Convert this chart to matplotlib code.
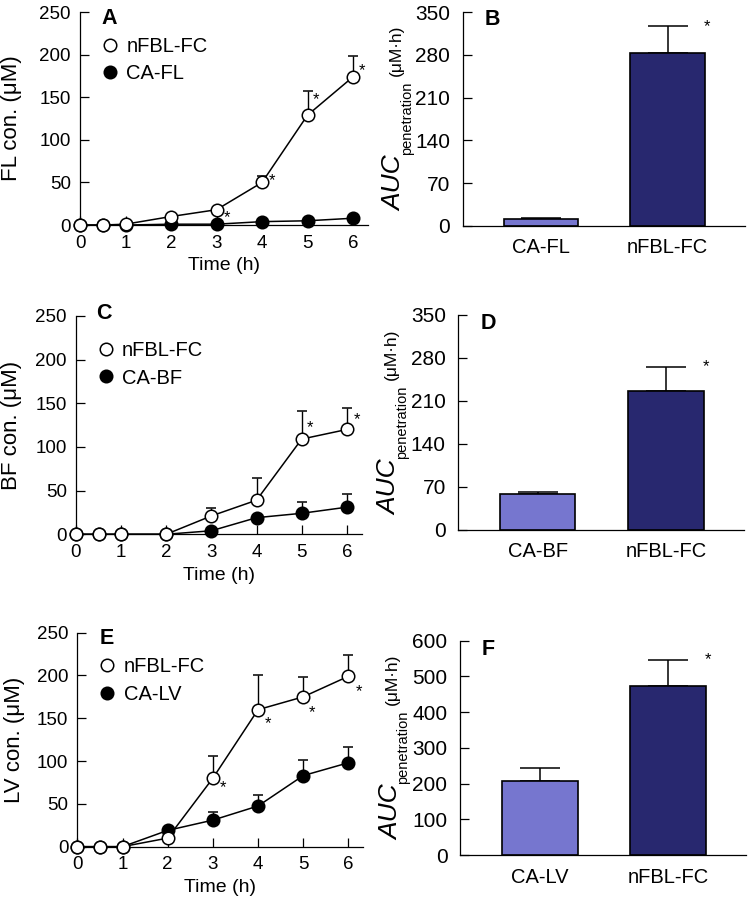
import numpy as np
import matplotlib
matplotlib.use("Agg")
import matplotlib.pyplot as plt
from matplotlib.lines import Line2D

plt.rcParams['font.family'] = ['Liberation Sans', 'DejaVu Sans']
plt.rcParams['axes.linewidth'] = 0.9

# ---- data ----
times = [0, 0.5, 1, 2, 3, 4, 5, 6]

fl_nfbl = [0, 0, 1, 10, 18, 50, 129, 174]
fl_nfbl_err = [0, 0, 0, 2, 2, 7, 28, 24]
fl_ca = [0, 0, 0, 1, 1, 4, 5, 8]
fl_ca_err = [0, 0, 0, 0, 0, 1, 1, 2]

bf_nfbl = [0, 0, 0, 0, 21, 39, 109, 120]
bf_nfbl_err = [0, 0, 0, 0, 9, 26, 32, 25]
bf_ca = [0, 0, 0, 0, 4, 19, 24, 31]
bf_ca_err = [0, 0, 0, 0, 0, 3, 13, 15]

lv_nfbl = [0, 0, 0, 10, 80, 160, 175, 199]
lv_nfbl_err = [0, 0, 0, 0, 26, 40, 23, 25]
lv_ca = [0, 0, 0, 19, 31, 47.5, 83, 98]
lv_ca_err = [0, 0, 0, 0, 10, 13, 18, 18]

# significance marks on the nFBL-FC curve: time points
fl_sig = [3, 4, 5, 6]
bf_sig = [5, 6]
lv_sig = [3, 4, 5, 6]

auc_fl_names = ['CA-FL', 'nFBL-FC']
auc_fl = [11, 283]
auc_fl_err = [2, 44]
auc_bf_names = ['CA-BF', 'nFBL-FC']
auc_bf = [58, 227]
auc_bf_err = [4, 39]
auc_lv_names = ['CA-LV', 'nFBL-FC']
auc_lv = [208, 473]
auc_lv_err = [37, 73]

light = '#7676cf'
dark = '#28286f'

fig = plt.figure(figsize=(7.5, 9.1), dpi=100)


def panel_letter(ax, letter, x, y):
    ax.text(x, y, letter, transform=ax.transAxes, fontsize=15.5, fontweight='bold',
            ha='left', va='center')


def line_panel(rect, letter, lpos, ylab, ca_name, nfbl, nfbl_err, ca, ca_err, sig, star_off, labx):
    ax = fig.add_axes(rect)
    for vals, err, fc, z in [(ca, ca_err, 'black', 3), (nfbl, nfbl_err, 'white', 4)]:
        low = np.zeros(len(err))
        eb = ax.errorbar(times, vals, yerr=[low, err], fmt='-o', color='black',
                         mfc=fc, mec='black', mew=1.1, ms=9, lw=1.1,
                         elinewidth=1.0, capsize=3.5, capthick=1.0, zorder=z)
        for art in eb.lines[1] + eb.lines[2]:
            art.set_clip_on(False)
            art.set_zorder(z - 0.5)
        eb.lines[0].set_clip_on(False)
    for t, (dx, dy) in zip(sig, star_off):
        i = times.index(t)
        ax.annotate('*', xy=(t, nfbl[i]), xytext=(dx * 0.72, dy * 0.72 - 4),
                    textcoords='offset points', ha='center', va='center', fontsize=12)
    ax.set_xlim(0, 6.33)
    ax.set_ylim(0, 250)
    ax.set_xticks(range(7))
    ax.set_yticks(range(0, 251, 50))
    for s in ['top', 'right']:
        ax.spines[s].set_visible(False)
    ax.tick_params(axis='both', direction='in', length=6.5, width=0.9, labelsize=13.5)
    ax.tick_params(axis='y', pad=6.5)
    ax.tick_params(axis='x', pad=7)
    ax.set_xlabel('Time (h)', fontsize=14, labelpad=4)
    ax.set_ylabel(ylab, fontsize=16)
    ax.yaxis.set_label_coords(labx, 0.5)
    panel_letter(ax, letter, *lpos)
    handles = [Line2D([], [], marker='o', ls='none', mfc='white', mec='black', mew=1.1, ms=9),
               Line2D([], [], marker='o', ls='none', mfc='black', mec='black', mew=1.1, ms=9)]
    ax.legend(handles, ['nFBL-FC', ca_name], loc='upper left', bbox_to_anchor=(0.077, 0.885),
              frameon=False, fontsize=14.5, handlelength=0.8, handletextpad=0.4,
              borderpad=0, borderaxespad=0, labelspacing=0.42)
    return ax


def auc_label(ax):
    t1 = ax.text(-0.217, 0.07, 'AUC', transform=ax.transAxes, rotation=90,
                 rotation_mode='anchor', ha='left', va='baseline', fontsize=19, style='italic')
    t2 = ax.annotate('penetration', xy=(1, 1), xycoords=t1, xytext=(4.5, 0),
                     textcoords='offset pixels', rotation=90, rotation_mode='anchor',
                     ha='left', va='baseline', fontsize=10.5)
    ax.annotate('(μM·h)', xy=(1, 1), xycoords=t2, xytext=(-13, 6),
                textcoords='offset pixels', rotation=90, rotation_mode='anchor',
                ha='left', va='baseline', fontsize=12.5)


def bar_panel(rect, letter, lpos, names, vals, errs, ymax, step):
    ax = fig.add_axes(rect)
    x = np.arange(len(names))
    ax.bar(x, vals, width=0.59, color=[light, dark], edgecolor='black', linewidth=1.2, zorder=2)
    ax.errorbar(x, vals, yerr=[np.zeros(len(errs)), errs], fmt='none', ecolor='black',
                elinewidth=1.1, capsize=14.5, capthick=1.1, zorder=1)
    ax.text(1.31, vals[1] + errs[1], '*', ha='center', va='center', fontsize=12)
    ax.set_xlim(-0.62, 1.61)
    ax.set_ylim(0, ymax)
    ax.set_yticks(np.arange(0, ymax + 1, step))
    ax.set_xticks(x)
    ax.set_xticklabels(names)
    for s in ['top', 'right']:
        ax.spines[s].set_visible(False)
    ax.tick_params(axis='y', direction='in', length=6.5, width=0.9, labelsize=15, pad=9)
    ax.tick_params(axis='x', length=0, labelsize=14.5, pad=9)
    auc_label(ax)
    panel_letter(ax, letter, *lpos)
    return ax


line_panel([0.1067, 0.7527, 0.384, 0.234], 'A', (0.075, 0.970), 'FL con. (μM)', 'CA-FL',
           fl_nfbl, fl_nfbl_err, fl_ca, fl_ca_err, fl_sig,
           [(10, -2), (10, 7), (8, 21), (9, 12)], -0.20)
bar_panel([0.617, 0.752, 0.376, 0.2345], 'B', (0.078, 0.968), auc_fl_names, auc_fl, auc_fl_err, 350, 70)

line_panel([0.1013, 0.4129, 0.381, 0.2399], 'C', (0.072, 1.011), 'BF con. (μM)', 'CA-BF',
           bf_nfbl, bf_nfbl_err, bf_ca, bf_ca_err, bf_sig,
           [(8.5, 17), (10, 15)], -0.189)
bar_panel([0.611, 0.4176, 0.381, 0.2363], 'D', (0.079, 0.958), auc_bf_names, auc_bf, auc_bf_err, 350, 70)

line_panel([0.1031, 0.0696, 0.3813, 0.2352], 'E', (0.079, 0.973), 'LV con. (μM)', 'CA-LV',
           lv_nfbl, lv_nfbl_err, lv_ca, lv_ca_err, lv_sig,
           [(10, -4), (10, -8), (9, -10), (11, -10)], -0.183)
bar_panel([0.6133, 0.0604, 0.382, 0.2355], 'F', (0.075, 0.960), auc_lv_names, auc_lv, auc_lv_err, 600, 100)

fig.savefig('out.png', dpi=100)
